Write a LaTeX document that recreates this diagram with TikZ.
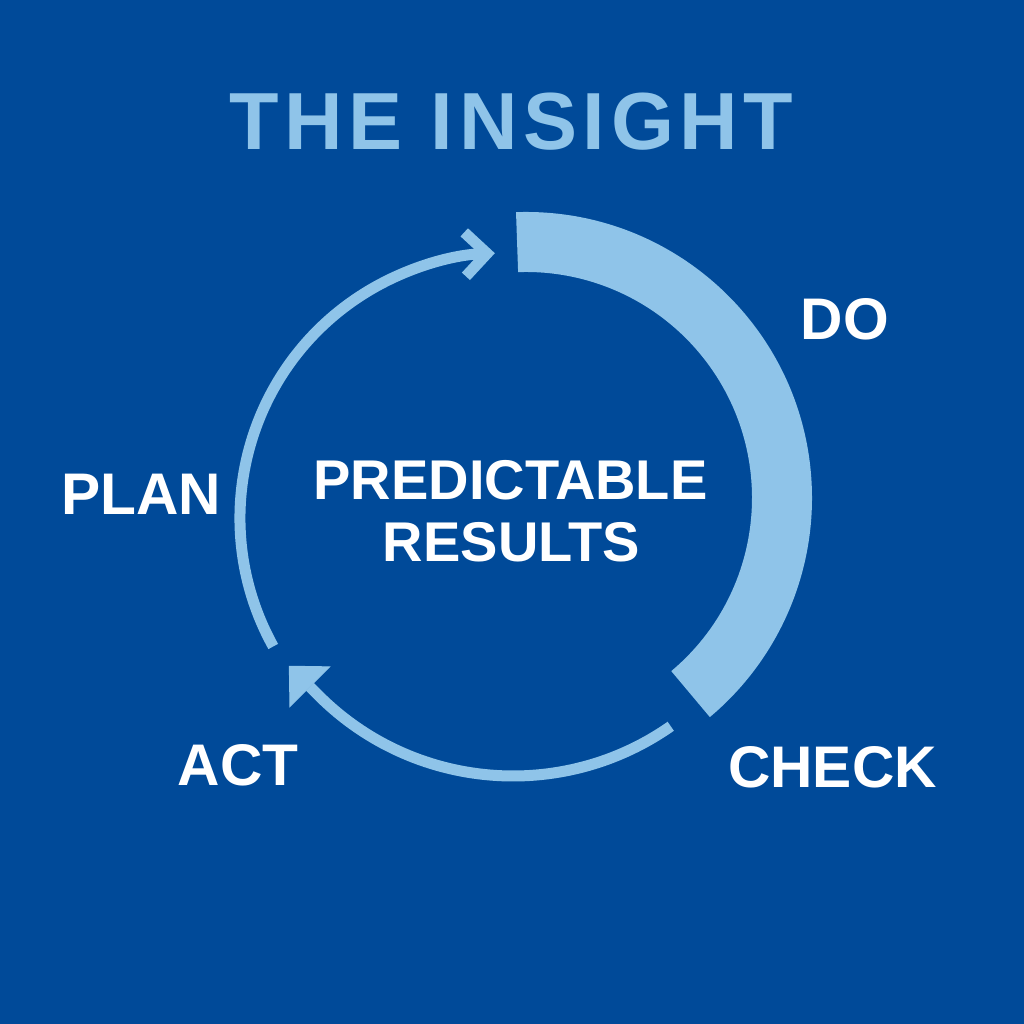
\documentclass[tikz,border=0pt]{standalone}
\usepackage{fontspec}
\setmainfont{Liberation Sans}
\usetikzlibrary{arrows.meta}
\definecolor{bg}{RGB}{0,74,153}
\definecolor{lb}{RGB}{143,196,233}
\begin{document}
\begin{tikzpicture}[x=1pt,y=1pt,
  lbl/.style={text=white,font=\fontsize{58.7}{60}\selectfont\bfseries,inner sep=0pt,anchor=base},
  ctr/.style={text=white,font=\fontsize{56}{58}\selectfont\bfseries,inner sep=0pt,anchor=base},
  ttl/.style={text=lb,font=\fontsize{81}{82}\selectfont\bfseries\addfontfeatures{LetterSpace=7},inner sep=0pt,anchor=base},
  thin/.style={draw=lb,line width=11pt}]
\fill[bg] (0,0) rectangle (1024,1024);
\useasboundingbox (0,0) rectangle (1024,1024);
% centres of the arcs
\coordinate (c1) at (526,526);
\coordinate (c2) at (505,506);
\coordinate (c3) at (513,523);
% thick DO arc
\fill[lb] ([shift={(92:286)}]c1) arc[start angle=92,end angle=-50,radius=286]
  -- ([shift={(-50:226)}]c1) arc[start angle=-50,end angle=92,radius=226] -- cycle;
% thin arc PLAN -> DO
\draw[thin,-{Straight Barb[length=22pt,width=44pt,sharp]}]
  ([shift={(209:265)}]c2) arc[start angle=209,end angle=92.2,radius=265];
% thin arc CHECK -> ACT
\draw[thin,-{Triangle[length=30pt,width=58pt,line width=1pt]}]
  ([shift={(-55:275)}]c3) arc[start angle=-55,end angle=-135,radius=275] -- ++(135:42);
% texts
\node[ttl] (title) at (511.5,874) {THE INSIGHT};
\node[ctr] (pr) at (510.5,524) {PREDICTABLE};
\node[ctr] (rs) at (511.5,462) {RESULTS};
\node[lbl] (do) at (845,684) {DO};
\node[lbl] (plan) at (141,509) {PLAN};
\node[lbl] (act) at (238,238) {ACT};
\node[lbl] (check) at (832.5,236) {CHECK};
\end{tikzpicture}
\end{document}
